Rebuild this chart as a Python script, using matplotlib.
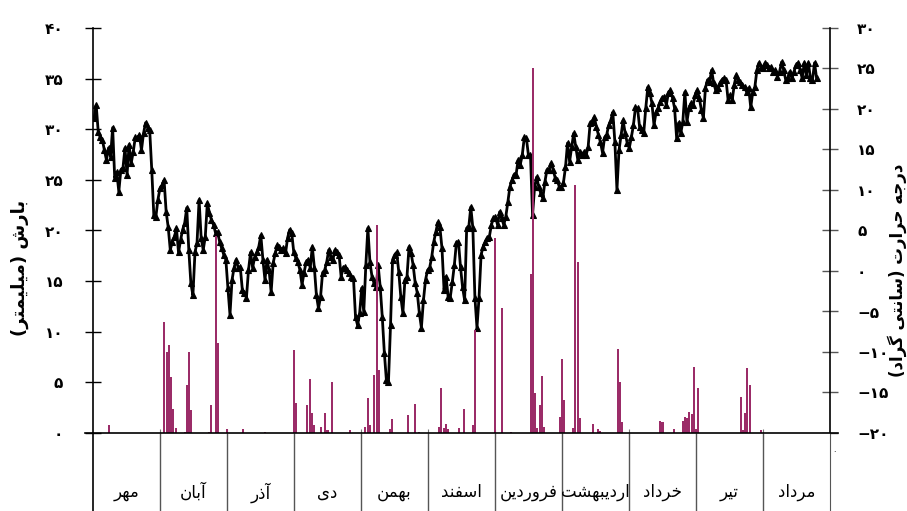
import numpy as np
import matplotlib
matplotlib.use("Agg")
import matplotlib.pyplot as plt
from matplotlib.lines import Line2D

plt.rcParams["font.family"] = ["DejaVu Sans"]

# --- data -------------------------------------------------------------------
months = ["مهر", "آبان", "آذر", "دی", "بهمن", "اسفند",
          "فروردین", "اردیبهشت", "خرداد", "تیر", "مرداد"]
days_per_month = 30

# daily mean temperature (deg C), Mehr -> Mordad
temp_c = [
    18.9, 20.5, 17.2, 16.5, 16.2, 14.9, 13.7, 15.2, 14.1, 17.7,
    11.5, 12.2, 9.8, 12.5, 12.7, 15.2, 11.9, 15.6, 13.3, 14.7,
    16.5, 16.4, 16.8, 14.9, 17.0, 18.3, 17.7, 17.4, 12.5, 6.9,
    6.7, 8.8, 10.2, 10.6, 11.2, 7.3, 5.4, 2.6, 3.6, 4.2,
    5.3, 2.3, 3.8, 5.1, 5.9, 7.8, 2.6, -1.5, -3.0, 2.3,
    3.5, 8.8, 4.1, 2.6, 4.2, 8.4, 7.2,
    6.3, 5.7, 4.7, 4.8, 3.6, 2.8, 2.0, 1.4, -2.1, -5.4,
    -1.1, 0.4, 1.4, 0.4, 0.5, -2.3, -2.7, -3.3, 0.1, 2.3,
    0.4, 1.7, 2.3, 3.0, 4.4, 1.4, -1.1, 1.4, 0.1, -2.6,
    1.0, 2.2, 3.2, 3.0, 2.6, 2.8, 2.2, 4.1, 5.1, 4.7,
    2.3, 1.6, 1.1, 0.1, -1.7, -0.2, 1.1, 1.4, 0.4, 3.0,
    0.4, -3.0, -4.6, -3.2, -0.2, 0.1, 1.1, 2.6, 1.7, 1.4,
    2.6, 2.3, 2.0,
    -0.7, 0.4, 0.5, 0.1, -0.2, -0.7, -0.9, -5.7, -6.7, -5.2,
    -2.1, -5.1, 0.7, 5.3, 1.1, -0.7, -1.5, -2.0, 0.7, -2.0,
    -5.7, -10.1, -13.5, -13.7, -6.7, 1.4, 2.0, 2.3, -0.1, -3.2,
    -5.2, -1.1, -0.7, 3.0, 2.2, 0.7, -1.5, -2.7, -5.2, -7.0,
    -3.6, -1.1, 0.1, 0.4, 1.7, 3.6, 4.8, 6.0, 5.4, 2.8,
    -2.3, -0.7, -3.2, -3.3, -1.4, 0.7, 3.5, 3.6, 0.5, -2.0,
    -3.6, 5.3, 5.4, 7.9, 5.3, -3.3, -7.0, -3.3, 2.0, 3.0,
    3.6, 4.1, 4.2, 5.7, 6.5, 6.7, 5.7, 7.3, 6.5, 5.7,
    6.7, 8.5, 10.4, 11.2, 11.9, 11.9, 13.7, 13.1, 14.3, 16.5,
    16.4, 14.3, 14.3, 6.9, 10.4, 11.6, 10.4, 9.6, 9.0, 11.0,
    12.5, 12.5, 13.3, 12.5, 11.5, 11.2, 10.4, 10.4, 10.9, 12.8,
    15.8, 13.5, 15.3, 17.0, 15.3, 13.7, 14.7,
    14.3, 14.7, 14.3, 15.3, 18.3, 18.4, 19.0, 17.8, 16.8, 15.9,
    14.6, 16.5, 16.8, 18.0, 18.6, 19.6, 15.9, 10.0, 14.9, 16.8,
    18.6, 17.0, 15.8, 15.2, 16.5, 18.0, 20.2, 20.1, 17.8, 17.4,
    17.0, 20.1, 22.7, 22.0, 20.7, 18.0, 19.6, 20.1, 20.9, 21.4,
    21.5, 20.5, 22.0, 22.3, 21.4, 20.1, 16.4, 18.3, 17.0, 18.4,
    22.1, 18.4, 20.1, 20.7, 20.5, 21.7, 22.3, 21.4, 19.9,
    18.9, 22.6, 23.6, 23.3, 24.8, 23.2, 22.3, 22.6, 23.2, 23.6,
    23.8, 23.6, 21.1, 21.7, 21.1, 23.0, 24.2, 23.6, 23.3, 23.0,
    22.7, 22.1, 22.6, 20.2, 22.1, 22.7, 24.8, 25.7, 25.2, 25.1,
    25.7, 25.4, 25.1, 25.2, 24.6, 24.8, 24.0, 24.6, 25.8, 24.8,
    23.6, 23.8, 24.6, 23.8, 24.6, 25.4, 25.7, 24.8, 23.8, 25.7,
    24.2, 25.7, 23.8, 23.6, 25.7, 23.8,
]
temp_first_day, temp_last_day = 0.5, 324

# daily precipitation (mm), only rainy days
rain_day = [7, 32, 33, 34, 35, 36, 37, 41, 42, 43, 44, 52, 53, 55, 56,
            60, 67, 77, 90, 91, 96, 97, 98, 99, 102, 104, 105, 107,
            115, 122, 123, 124, 126, 127, 128, 133, 134, 141, 144, 146,
            155, 156, 157, 158, 159, 164, 166, 170, 171, 180, 183, 187,
            196, 197, 198, 199, 200, 201, 202, 209, 210, 211, 215, 216,
            217, 218, 224, 226, 227, 235, 236, 237, 254, 255, 260,
            264, 265, 266, 267, 268, 269, 270, 271, 290, 291, 292, 293,
            294, 299]
rain_mm = [0.8, 11.0, 8.0, 8.7, 5.5, 2.4, 0.5, 0.1, 4.7, 8.0, 2.3, 0.1, 2.8, 19.5, 8.9,
           0.4, 0.4, 0.1, 8.2, 3.0, 2.8, 5.3, 2.0, 0.8, 0.6, 2.0, 0.3, 5.0,
           0.3, 0.6, 3.5, 0.8, 5.7, 20.5, 6.2, 0.4, 1.4, 1.8, 2.9, 0.1,
           0.6, 4.4, 0.5, 0.9, 0.4, 0.5, 2.4, 0.8, 10.2, 19.3, 12.3, 0.1,
           15.7, 36.0, 4.0, 0.5, 2.8, 5.6, 0.6, 1.6, 7.3, 3.3, 0.5, 24.5,
           16.9, 1.5, 0.9, 0.4, 0.2, 8.3, 5.0, 1.1, 1.2, 1.1, 0.4,
           1.2, 1.6, 1.5, 2.1, 1.9, 6.5, 0.4, 4.4, 3.6, 0.3, 2.0, 6.4,
           4.7, 0.3]

left_label = "بارش (میلیمتر)"
right_label = "درجه حرارت (سانتی گراد)"

# --- persian shaping (matplotlib has no arabic shaping) ----------------------
FORMS = {
    "ا": ("\uFE8D", "\uFE8E", None, None),
    "آ": ("\uFE81", "\uFE82", None, None),
    "ب": ("\uFE8F", "\uFE90", "\uFE91", "\uFE92"),
    "ت": ("\uFE95", "\uFE96", "\uFE97", "\uFE98"),
    "ج": ("\uFE9D", "\uFE9E", "\uFE9F", "\uFEA0"),
    "ح": ("\uFEA1", "\uFEA2", "\uFEA3", "\uFEA4"),
    "خ": ("\uFEA5", "\uFEA6", "\uFEA7", "\uFEA8"),
    "د": ("\uFEA9", "\uFEAA", None, None),
    "ذ": ("\uFEAB", "\uFEAC", None, None),
    "ر": ("\uFEAD", "\uFEAE", None, None),
    "ز": ("\uFEAF", "\uFEB0", None, None),
    "س": ("\uFEB1", "\uFEB2", "\uFEB3", "\uFEB4"),
    "ش": ("\uFEB5", "\uFEB6", "\uFEB7", "\uFEB8"),
    "ف": ("\uFED1", "\uFED2", "\uFED3", "\uFED4"),
    "ل": ("\uFEDD", "\uFEDE", "\uFEDF", "\uFEE0"),
    "م": ("\uFEE1", "\uFEE2", "\uFEE3", "\uFEE4"),
    "ن": ("\uFEE5", "\uFEE6", "\uFEE7", "\uFEE8"),
    "ه": ("\uFEE9", "\uFEEA", "\uFEEB", "\uFEEC"),
    "و": ("\uFEED", "\uFEEE", None, None),
    "ی": ("\uFBFC", "\uFBFD", "\uFBFE", "\uFBFF"),
    "گ": ("\uFB92", "\uFB93", "\uFB94", "\uFB95"),
}
MIRROR = {"(": ")", ")": "("}


def fa(text):
    out = []
    for i, c in enumerate(text):
        if c not in FORMS:
            out.append(c)
            continue
        prev = text[i - 1] if i > 0 else ""
        nxt = text[i + 1] if i + 1 < len(text) else ""
        iso, fin, ini, med = FORMS[c]
        join_prev = prev in FORMS and FORMS[prev][2] is not None
        join_next = nxt in FORMS and ini is not None
        if join_prev and join_next:
            out.append(med)
        elif join_prev:
            out.append(fin)
        elif join_next:
            out.append(ini)
        else:
            out.append(iso)
    return "".join(MIRROR.get(c, c) for c in reversed(out))


def fa_num(v):
    return str(int(v)).translate(str.maketrans("0123456789-", "۰۱۲۳۴۵۶۷۸۹−"))


# --- figure -----------------------------------------------------------------
W, H = 907, 511
fig = plt.figure(figsize=(W / 100, H / 100), dpi=100)
x0, x1, y_top, y_axis = 93, 830, 28, 433
ax = fig.add_axes([x0 / W, 1 - y_axis / H, (x1 - x0) / W, (y_axis - y_top) / H])
ax2 = ax.twinx()
strip = fig.add_axes([x0 / W, 0, (x1 - x0) / W, 1 - y_axis / H], sharex=ax)

n_days = days_per_month * len(months)
bar_color = "#9b2c68"

ax.bar(rain_day, rain_mm, width=0.9, color=bar_color, linewidth=0, zorder=3)
temp_x = np.linspace(temp_first_day, temp_last_day, len(temp_c))
ax2.plot(temp_x, temp_c, color="black", lw=2, marker="^", ms=4.5,
         markeredgewidth=0.8, zorder=2)

ax.set_zorder(ax2.get_zorder() + 1)
ax.patch.set_visible(False)

ax.set_xlim(0, n_days)
ax.set_ylim(0, 40)
ax2.set_ylim(-20, 30)

left_ticks = np.arange(0, 41, 5)
right_ticks = np.arange(-20, 31, 5)
ax.set_yticks(left_ticks)
ax.set_yticklabels([fa_num(t) for t in left_ticks])
ax2.set_yticks(right_ticks)
ax2.set_yticklabels([fa_num(t) for t in right_ticks])

ax.tick_params(axis="y", direction="inout", length=11, width=1, pad=16,
               labelsize=11)
ax2.tick_params(axis="y", direction="inout", length=11, width=1, pad=14,
                labelsize=11, color="#555555")
for lab in ax.get_yticklabels() + ax2.get_yticklabels():
    lab.set_fontweight("bold")

bounds = np.arange(0, n_days + 1, days_per_month)
ax.set_xticks(bounds[1:-1])
ax.tick_params(axis="x", direction="in", length=3, color="#777777",
               labelbottom=False)

for a in (ax, ax2):
    a.spines["top"].set_visible(False)
    a.spines["bottom"].set_visible(False)
ax.spines["left"].set_linewidth(1.2)
ax2.spines["right"].set_linewidth(1.2)
ax2.spines["left"].set_visible(False)
ax.spines["right"].set_visible(False)

# horizontal base line, a bit wider than the plot
ax.add_line(Line2D([-0.011, 1.011], [0, 0], transform=ax.transAxes,
                   color="black", lw=1.2, clip_on=False, zorder=5))

# month strip
strip.set_ylim(0, 1)
strip.set_yticks([])
strip.tick_params(axis="x", bottom=False, labelbottom=False)
strip.spines["top"].set_visible(False)
strip.spines["bottom"].set_visible(False)
strip.spines["left"].set_linewidth(1.2)
strip.spines["right"].set_color("#555555")
strip.vlines(bounds[1:-1], 0, 1, color="#555555", lw=1)
for i, name in enumerate(months):
    strip.text((i + 0.5) * days_per_month, 0.24, fa(name), ha="center",
               va="center", fontsize=12)

fig.text(20 / W, 1 - 268 / H, fa(left_label), rotation=90, ha="center",
         va="center", fontsize=13, fontweight="bold")
fig.text(897 / W, 1 - 270 / H, fa(right_label), rotation=90, ha="center",
         va="center", fontsize=12, fontweight="bold")
fig.text(834 / W, 1 - 452 / H, "۰", ha="center", va="center", fontsize=6)

fig.savefig("out.png", dpi=100)
